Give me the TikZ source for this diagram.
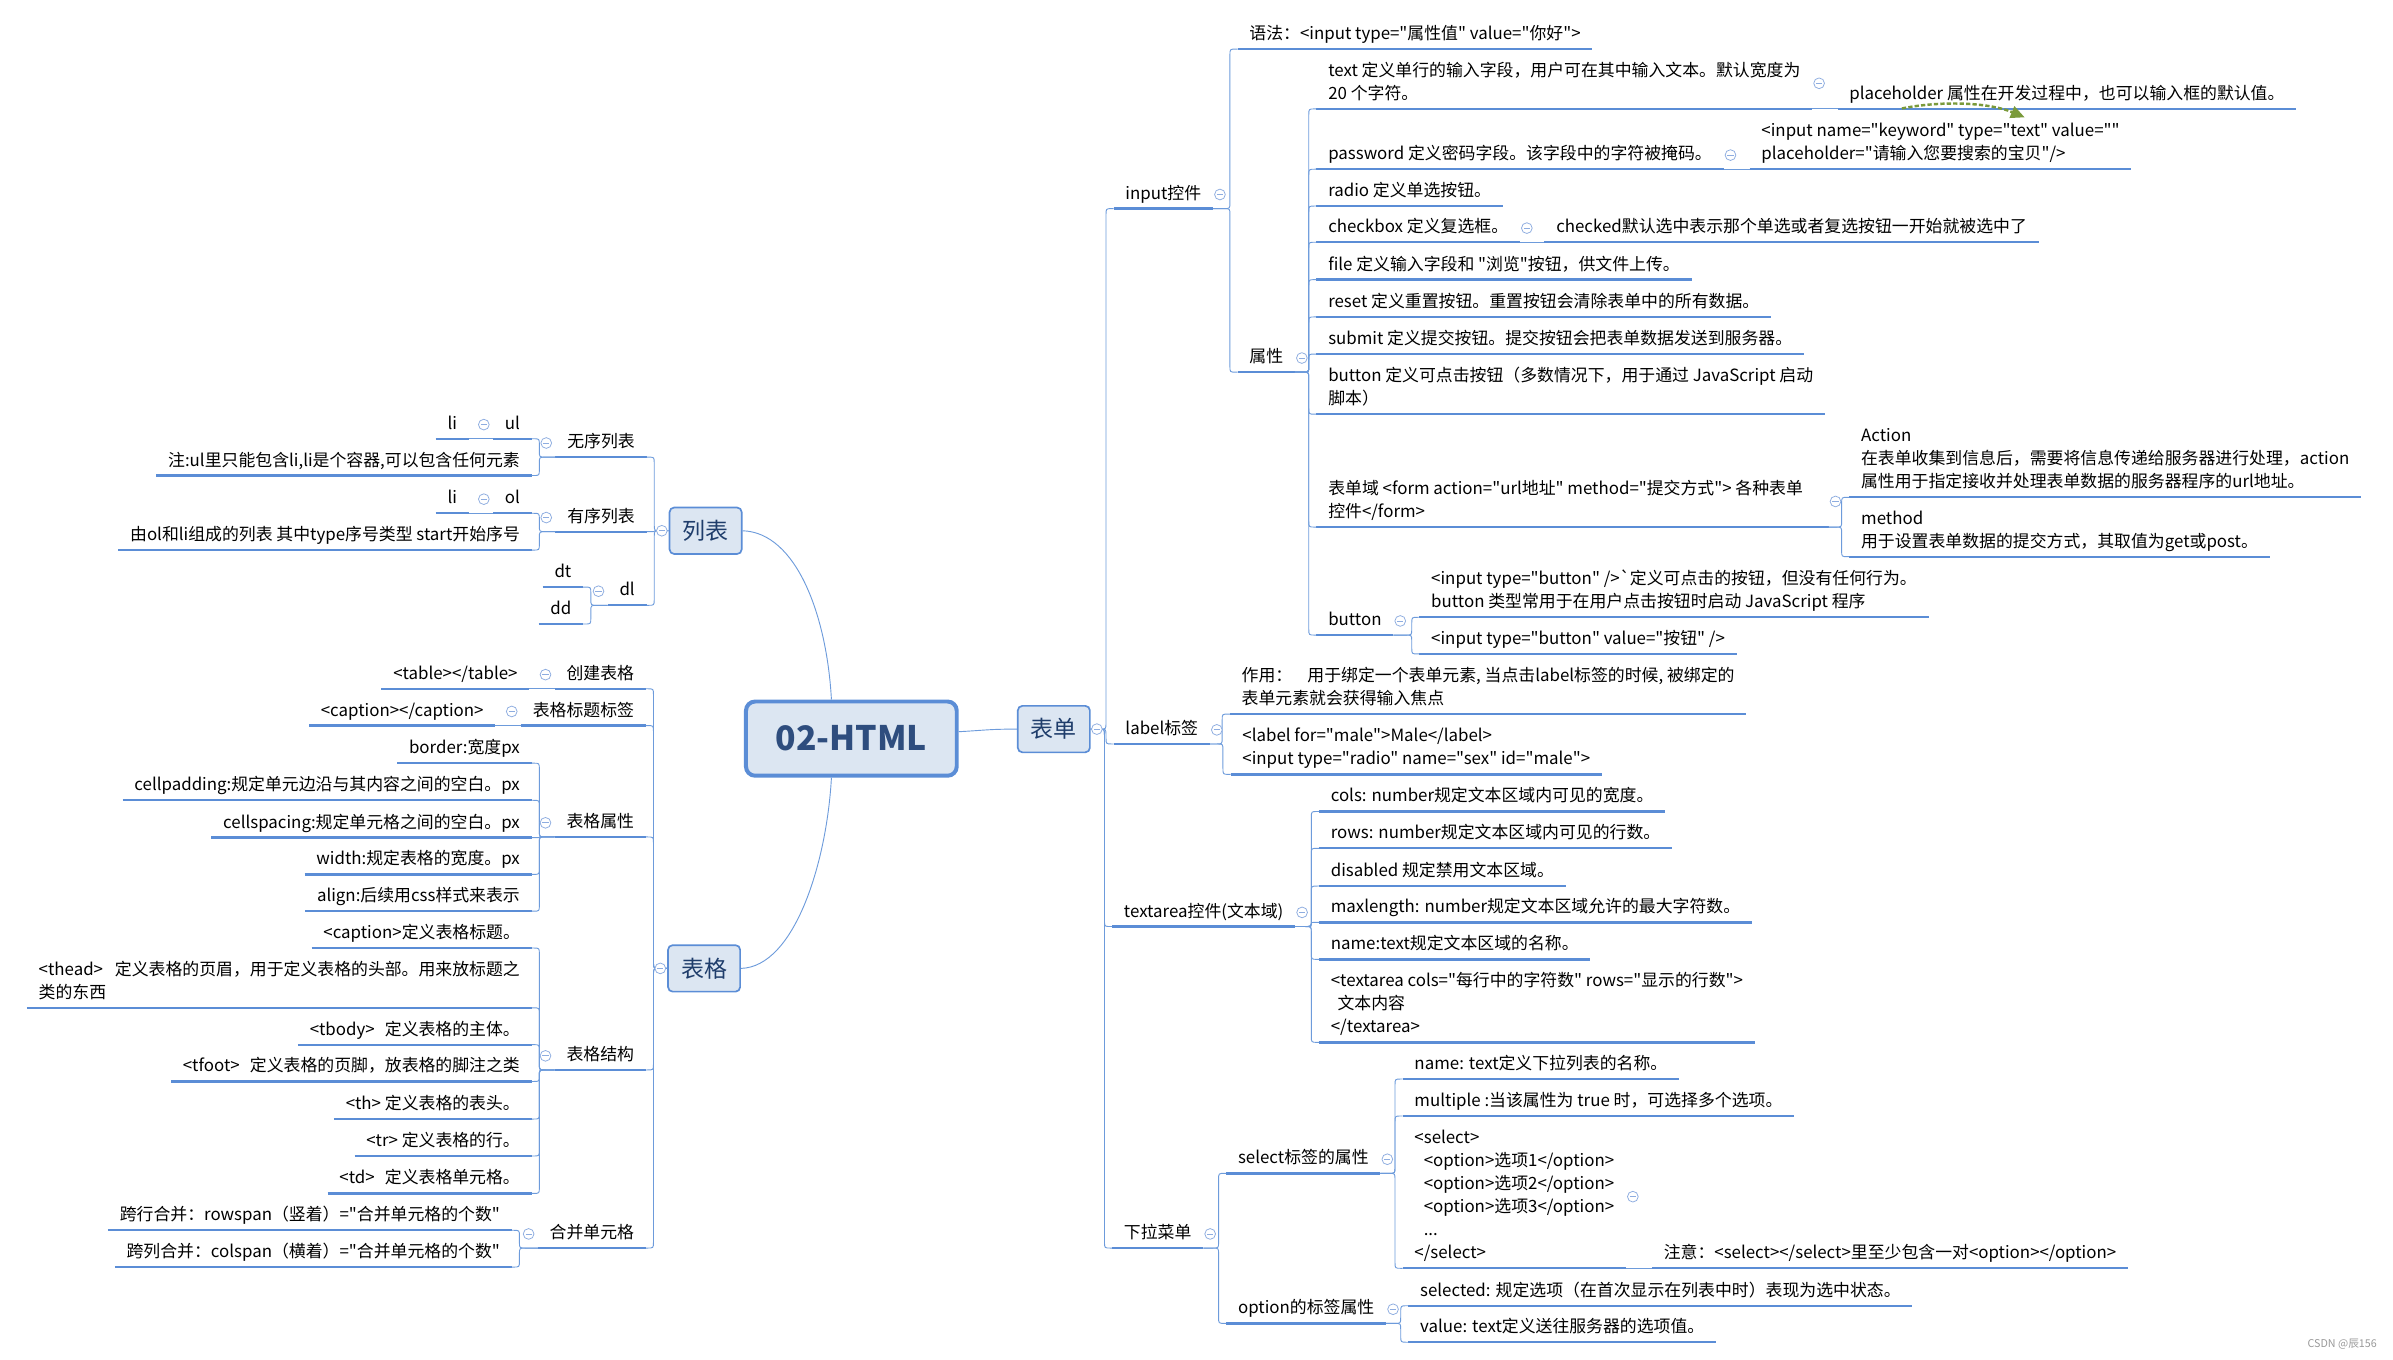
\documentclass[tikz,border=0pt]{standalone}
\usepackage{fontspec}
\newfontfamily\cjk{Noto Sans CJK SC}
\usetikzlibrary{calc,arrows.meta}
\definecolor{ulc}{HTML}{5B8DD6}
\definecolor{lnc}{HTML}{6D9BDB}
\definecolor{btnc}{HTML}{8EADE0}
\definecolor{boxfill}{HTML}{DCE6F2}
\definecolor{boxtext}{HTML}{1F3D6B}
\definecolor{ctext}{HTML}{2E4D7E}
\definecolor{relc}{HTML}{7A9A3A}
\newcommand\tl[1]{\begin{tabular}{@{}l@{}}#1\end{tabular}}
\begin{document}
\begin{tikzpicture}[x=1pt,y=-1pt,
 every node/.style={font=\cjk\fontsize{11}{15}\selectfont},
 ulline/.style={draw=ulc,line width=1.5pt},
 topic/.style={inner xsep=7.5pt,inner ysep=1.5pt,append after command={(\tikzlastnode.south west) edge[ulline] (\tikzlastnode.south east)}},
 tR/.style={topic,anchor=south west},
 tL/.style={topic,anchor=south east},
 bx/.style={draw=ulc,fill=boxfill,line width=1.1pt,rounded corners=3pt,minimum width=47pt,minimum height=30.3pt,inner sep=0pt,text=boxtext,font=\cjk\fontsize{15}{18}\selectfont},
 cbx/.style={draw=ulc,fill=boxfill,line width=2.6pt,rounded corners=6pt,minimum width=137.4pt,minimum height=48.4pt,inner sep=0pt,text=ctext,font=\cjk\fontsize{22}{26}\selectfont\bfseries},
 ln/.style={draw=lnc,line width=0.6pt},
 connR/.style={ln,to path={let \p1=(\tikztostart), \p2=(\tikztotarget), \n1={min(4,abs(\y2-\y1)/2)}, \n2={(\y2>\y1)-(\y2<\y1)} in
   -- (\x2-5pt-\n1,\y1) .. controls (\x2-5pt,\y1) .. (\x2-5pt,\y1+\n2*\n1) -- (\x2-5pt,\y2-\n2*\n1) .. controls (\x2-5pt,\y2) .. (\x2-5pt+\n1,\y2) -- (\tikztotarget)}},
 connL/.style={ln,to path={let \p1=(\tikztostart), \p2=(\tikztotarget), \n1={min(4,abs(\y2-\y1)/2)}, \n2={(\y2>\y1)-(\y2<\y1)} in
   -- (\x2+5pt+\n1,\y1) .. controls (\x2+5pt,\y1) .. (\x2+5pt,\y1+\n2*\n1) -- (\x2+5pt,\y2-\n2*\n1) .. controls (\x2+5pt,\y2) .. (\x2+5pt-\n1,\y2) -- (\tikztotarget)}},
 cb/.style={circle,draw=btnc,fill=white,line width=0.5pt,minimum size=7pt,inner sep=0pt,path picture={\draw[btnc,line width=0.55pt] ([xshift=-2pt]path picture bounding box.center) -- ([xshift=2pt]path picture bounding box.center);}},
 rel/.style={draw=relc,line width=1.6pt,dash pattern=on 2.8pt off 1.4pt,-{Triangle[length=9pt,width=8pt]}}
]
\useasboundingbox (0,0) rectangle (1560,886);

% ---------- main boxes
\node[cbx] (c) at (555,481.5) {02-HTML};
\node[bx] (form) at (687,475.3) {表单};
\node[bx] (list) at (460,346) {列表};
\node[bx] (tbl) at (459,631.3) {表格};

% ---------- right: form
\node[tR] (inp) at (726,136) {\tl{input控件}};
\node[tR] (syn) at ($(inp.south east)+(16,-104)$) {\tl{语法：<input type="属性值" value="你好">}};
\node[tR] (attr) at ($(inp.south east)+(16,106.6)$) {\tl{属性}};
\node[tR] (aText) at ($(attr.south east)+(14,-171.6)$) {\tl{text 定义单行的输入字段，用户可在其中输入文本。默认宽度为\\20 个字符。}};
\node[tR] (aPh) at ($(aText.south east)+(16.5,0)$) {\tl{placeholder 属性在开发过程中，也可以输入框的默认值。}};
\node[tR] (aPw) at ($(attr.south east)+(14,-132.3)$) {\tl{password 定义密码字段。该字段中的字符被掩码。}};
\node[tR] (aKw) at ($(aPw.south east)+(17,0)$) {\tl{<input name="keyword" type="text" value=""\\placeholder="请输入您要搜索的宝贝"/>}};
\node[tR] (aRadio) at ($(attr.south east)+(14,-108.3)$) {\tl{radio 定义单选按钮。}};
\node[tR] (aCb) at ($(attr.south east)+(14,-84.7)$) {\tl{checkbox 定义复选框。}};
\node[tR] (aChk) at ($(aCb.south east)+(16,0)$) {\tl{checked默认选中表示那个单选或者复选按钮一开始就被选中了}};
\node[tR] (aFile) at ($(attr.south east)+(14,-60.3)$) {\tl{file 定义输入字段和 "浏览"按钮，供文件上传。}};
\node[tR] (aReset) at ($(attr.south east)+(14,-36)$) {\tl{reset 定义重置按钮。重置按钮会清除表单中的所有数据。}};
\node[tR] (aSubmit) at ($(attr.south east)+(14,-11.8)$) {\tl{submit 定义提交按钮。提交按钮会把表单数据发送到服务器。}};
\node[tR] (aBtn) at ($(attr.south east)+(14,27.4)$) {\tl{button 定义可点击按钮（多数情况下，用于通过 JavaScript 启动\\脚本）}};
\node[tR] (aForm) at ($(attr.south east)+(14,101)$) {\tl{表单域 <form action="url地址" method="提交方式"> 各种表单\rule{9pt}{0pt}\\控件</form>}};
\node[tR] (aAct) at ($(aForm.south east)+(13.5,-19.4)$) {\tl{Action\\在表单收集到信息后，需要将信息传递给服务器进行处理，action\\属性用于指定接收并处理表单数据的服务器程序的url地址。}};
\node[tR] (aMeth) at ($(aForm.south east)+(13.5,19.3)$) {\tl{method\\用于设置表单数据的提交方式，其取值为get或post。}};
\node[tR] (aButton) at ($(attr.south east)+(14,171.4)$) {\tl{button}};
\node[tR] (aB1) at ($(aButton.south east)+(17,-11.6)$) {\tl{<input type="button" />`定义可点击的按钮，但没有任何行为。\\button 类型常用于在用户点击按钮时启动 JavaScript 程序}};
\node[tR] (aB2) at ($(aButton.south east)+(17,12.3)$) {\tl{<input type="button" value="按钮" />}};

\node[tR] (lbl) at (726,485) {\tl{label标签}};
\node[tR] (lbl1) at ($(lbl.south east)+(13,-19.5)$) {\tl{作用：\hspace{0.9em}用于绑定一个表单元素, 当点击label标签的时候, 被绑定的\\表单元素就会获得输入焦点}};
\node[tR] (lbl2) at ($(lbl.south east)+(13.5,19.8)$) {\tl{<label for="male">Male</label>\\<input type="radio" name="sex" id="male">}};

\node[tR] (ta) at (725,604) {\tl{textarea控件(文本域)}};
\node[tR] (ta1) at ($(ta.south east)+(15.5,-75)$) {\tl{cols: number规定文本区域内可见的宽度。}};
\node[tR] (ta2) at ($(ta.south east)+(15.5,-51)$) {\tl{rows: number规定文本区域内可见的行数。}};
\node[tR] (ta3) at ($(ta.south east)+(15.5,-26.4)$) {\tl{disabled 规定禁用文本区域。}};
\node[tR] (ta4) at ($(ta.south east)+(15.5,-2.7)$) {\tl{maxlength: number规定文本区域允许的最大字符数。}};
\node[tR] (ta5) at ($(ta.south east)+(15.5,21.4)$) {\tl{name:text规定文本区域的名称。}};
\node[tR] (ta6) at ($(ta.south east)+(15.5,75.5)$) {\tl{<textarea cols="每行中的字符数" rows="显示的行数">\\\hspace{0.4em}文本内容\\</textarea>}};

\node[tR] (drop) at (725,813.6) {\tl{下拉菜单}};
\node[tR] (sel) at ($(drop.south east)+(15,-48.7)$) {\tl{select标签的属性}};
\node[tR] (sel1) at ($(sel.south east)+(14.5,-61.5)$) {\tl{name: text定义下拉列表的名称。}};
\node[tR] (sel2) at ($(sel.south east)+(14.5,-37.4)$) {\tl{multiple :当该属性为 true 时，可选择多个选项。}};
\node[tR] (sel3) at ($(sel.south east)+(14.5,61.9)$) {\tl{<select>\\\hspace{0.55em}<option>选项1</option>\\\hspace{0.55em}<option>选项2</option>\\\hspace{0.55em}<option>选项3</option>\\\hspace{0.55em}...\\</select>}};
\node[tR] (sel4) at ($(sel3.south east)+(17,0)$) {\tl{注意：<select></select>里至少包含一对<option></option>}};
\node[tR] (opt) at ($(drop.south east)+(15,49.1)$) {\tl{option的标签属性}};
\node[tR] (opt1) at ($(opt.south east)+(14.5,-11.5)$) {\tl{selected: 规定选项（在首次显示在列表中时）表现为选中状态。}};
\node[tR] (opt2) at ($(opt.south east)+(14.5,12.3)$) {\tl{value: text定义送往服务器的选项值。}};

% ---------- left: list
\node[tL] (ul) at (421.5,298) {\tl{无序列表}};
\node[tL] (ulul) at ($(ul.south west)+(-15.5,-12)$) {\tl{ul}};
\node[tL] (ulli) at ($(ulul.south west)+(-15.8,0)$) {\tl{li}};
\node[tL] (ulnote) at ($(ul.south west)+(-15.5,12)$) {\tl{注:ul里只能包含li,li是个容器,可以包含任何元素}};
\node[tL] (ol) at (421.5,346.6) {\tl{有序列表}};
\node[tL] (olol) at ($(ol.south west)+(-15.5,-12)$) {\tl{ol}};
\node[tL] (olli) at ($(olol.south west)+(-15.8,0)$) {\tl{li}};
\node[tL] (olnote) at ($(ol.south west)+(-15.5,12)$) {\tl{由ol和li组成的列表 其中type序号类型 start开始序号}};
\node[tL] (dl) at (421.5,394.6) {\tl{dl}};
\node[tL] (dt) at ($(dl.south west)+(-16,-11.9)$) {\tl{dt}};
\node[tL] (ddd) at ($(dl.south west)+(-16,12.2)$) {\tl{dd}};

% ---------- left: table
\node[tL] (tc1) at (421,449) {\tl{创建表格}};
\node[tL] (tc1a) at ($(tc1.south west)+(-16.5,0)$) {\tl{<table></table>}};
\node[tL] (tc2) at (421,473) {\tl{表格标题标签}};
\node[tL] (tc2a) at ($(tc2.south west)+(-16.7,0)$) {\tl{<caption></caption>}};
\node[tL] (tc3) at (421,545.6) {\tl{表格属性}};
\node[tL] (tc3a) at ($(tc3.south west)+(-15,-48.1)$) {\tl{border:宽度px}};
\node[tL] (tc3b) at ($(tc3.south west)+(-15,-23.9)$) {\tl{cellpadding:规定单元边沿与其内容之间的空白。px}};
\node[tL] (tc3c) at ($(tc3.south west)+(-15,0.4)$) {\tl{cellspacing:规定单元格之间的空白。px}};
\node[tL] (tc3d) at ($(tc3.south west)+(-15,24.4)$) {\tl{width:规定表格的宽度。px}};
\node[tL] (tc3e) at ($(tc3.south west)+(-15,48.4)$) {\tl{align:后续用css样式来表示}};
\node[tL] (tc4) at (421,697.5) {\tl{表格结构}};
\node[tL] (tc4a) at ($(tc4.south west)+(-15,-79.5)$) {\tl{<caption>定义表格标题。}};
\node[tL] (tc4b) at ($(tc4.south west)+(-15,-40.5)$) {\tl{<thead>\hspace{0.7em}定义表格的页眉，用于定义表格的头部。用来放标题之\\类的东西}};
\node[tL] (tc4c) at ($(tc4.south west)+(-15,-16.5)$) {\tl{<tbody>\hspace{0.6em}定义表格的主体。}};
\node[tL] (tc4d) at ($(tc4.south west)+(-15,7.5)$) {\tl{<tfoot>\hspace{0.6em}定义表格的页脚，放表格的脚注之类}};
\node[tL] (tc4e) at ($(tc4.south west)+(-15,32)$) {\tl{<th> 定义表格的表头。}};
\node[tL] (tc4f) at ($(tc4.south west)+(-15,56.1)$) {\tl{<tr> 定义表格的行。}};
\node[tL] (tc4g) at ($(tc4.south west)+(-15,80.5)$) {\tl{<td>\hspace{0.6em}定义表格单元格。}};
\node[tL] (tc5) at (421,813.6) {\tl{合并单元格}};
\node[tL] (tc5a) at ($(tc5.south west)+(-17,-11.6)$) {\tl{跨行合并：rowspan（竖着）="合并单元格的个数"}};
\node[tL] (tc5b) at ($(tc5.south west)+(-17,12.4)$) {\tl{跨列合并：colspan（横着）="合并单元格的个数"}};

% ---------- connectors from centre
\draw[ln] ($(c.east)+(0,-4.5)$) .. controls +(18,-1) and +(-18,0) .. (form.west);
\draw[ln] (list.east) .. controls +(35,1) and +(-3,-55) .. ($(c.north west)+(57,0)$);
\draw[ln] (tbl.east) .. controls +(35,-1) and +(-3,55) .. ($(c.south west)+(57,0)$);

% ---------- right connectors
\foreach \k in {inp,lbl,ta,drop} \draw[connR] (form.east) to (\k.south west);
\foreach \k in {syn,attr} \draw[connR] (inp.south east) to (\k.south west);
\foreach \k in {aText,aPw,aRadio,aCb,aFile,aReset,aSubmit,aBtn,aForm,aButton} \draw[connR] (attr.south east) to (\k.south west);
\draw[connR] (aText.south east) to (aPh.south west);
\draw[connR] (aPw.south east) to (aKw.south west);
\draw[connR] (aCb.south east) to (aChk.south west);
\foreach \k in {aAct,aMeth} \draw[connR] (aForm.south east) to (\k.south west);
\foreach \k in {aB1,aB2} \draw[connR] (aButton.south east) to (\k.south west);
\foreach \k in {lbl1,lbl2} \draw[connR] (lbl.south east) to (\k.south west);
\foreach \k in {ta1,ta2,ta3,ta4,ta5,ta6} \draw[connR] (ta.south east) to (\k.south west);
\foreach \k in {sel,opt} \draw[connR] (drop.south east) to (\k.south west);
\foreach \k in {sel1,sel2,sel3} \draw[connR] (sel.south east) to (\k.south west);
\draw[connR] (sel3.south east) to (sel4.south west);
\foreach \k in {opt1,opt2} \draw[connR] (opt.south east) to (\k.south west);

% ---------- left connectors
\foreach \k in {ul,ol,dl} \draw[connL] (list.west) to (\k.south east);
\foreach \k in {ulul,ulnote} \draw[connL] (ul.south west) to (\k.south east);
\draw[connL] (ulul.south west) to (ulli.south east);
\foreach \k in {olol,olnote} \draw[connL] (ol.south west) to (\k.south east);
\draw[connL] (olol.south west) to (olli.south east);
\foreach \k in {dt,ddd} \draw[connL] (dl.south west) to (\k.south east);
\foreach \k in {tc1,tc2,tc3,tc4,tc5} \draw[connL] (tbl.west) to (\k.south east);
\draw[connL] (tc1.south west) to (tc1a.south east);
\draw[connL] (tc2.south west) to (tc2a.south east);
\foreach \k in {tc3a,tc3b,tc3c,tc3d,tc3e} \draw[connL] (tc3.south west) to (\k.south east);
\foreach \k in {tc4a,tc4b,tc4c,tc4d,tc4e,tc4f,tc4g} \draw[connL] (tc4.south west) to (\k.south east);
\foreach \k in {tc5a,tc5b} \draw[connL] (tc5.south west) to (\k.south east);

% ---------- collapse buttons
\node[cb] at ($(form.east)+(4,0)$) {};
\node[cb] at ($(list.west)+(-4.5,0)$) {};
\node[cb] at ($(tbl.west)+(-4.5,0)$) {};
\foreach \k in {inp,attr,aText,aPw,aCb,aForm,aButton,lbl,ta,drop,sel,sel3,opt} \node[cb] at ($(\k.east)+(4.5,0)$) {};
\foreach \k in {ul,ulul,ol,olol,dl,tc1,tc2,tc3,tc4,tc5} \node[cb] at ($(\k.west)+(-6,0)$) {};

% ---------- relationship arrow
\coordinate (relA) at ($(aPh.south west)+(42,-0.3)$);
\coordinate (relB) at ($(aPh.south west)+(122,5.5)$);
\draw[rel] (relA) .. controls ($(relA)+(25,-5)$) and ($(relB)+(-24,-10)$) .. (relB);

% ---------- watermark
\node[font=\cjk\fontsize{7}{8}\selectfont,text=black!40,anchor=east] (wm) at (1553,876) {CSDN @辰156};
\end{tikzpicture}
\end{document}
